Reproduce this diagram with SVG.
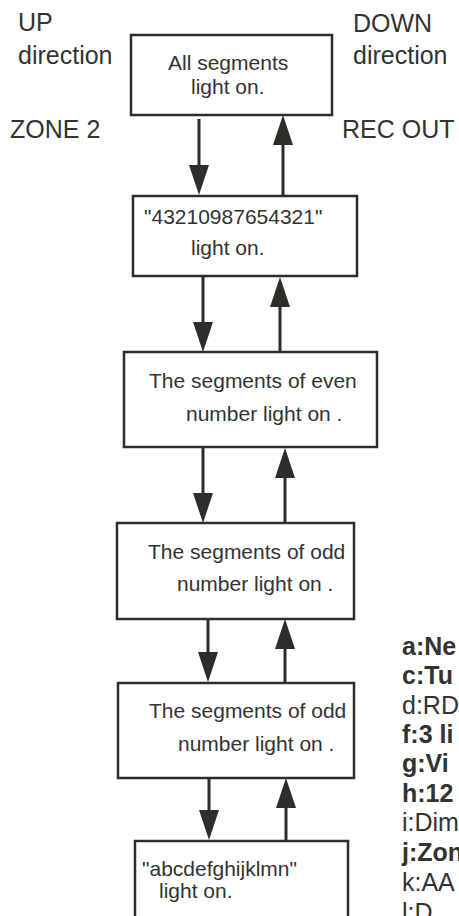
<svg xmlns="http://www.w3.org/2000/svg" width="459" height="916" viewBox="0 0 459 916">
<style>
text{font-family:"Liberation Sans",Arial,sans-serif;fill:#333331}
.lbl{font-size:25px}
.bx{font-size:21px}
.side{font-size:25px}
.b{font-weight:bold}
rect{fill:#fff;stroke:#2d2d2a;stroke-width:2.5}
.c line{stroke:#2d2d2a;stroke-width:3}
</style>
<defs>
<marker id="ah" viewBox="0 0 30 20" refX="0" refY="10" markerWidth="30" markerHeight="20" markerUnits="userSpaceOnUse" orient="auto">
<path d="M0,0 L30,10 L0,20 z" fill="#2d2d2a"/>
</marker>
</defs>
<rect x="0" y="0" width="459" height="916" style="stroke:none;fill:#fff"/>
<g id="labels">
<text class="lbl" x="18" y="31">UP</text>
<text class="lbl" x="18" y="64">direction</text>
<text class="lbl" x="353" y="32">DOWN</text>
<text class="lbl" x="353" y="64">direction</text>
<text class="lbl" x="10" y="138">ZONE 2</text>
<text class="lbl" x="342" y="138">REC OUT</text>
</g>
<g id="n1">
<rect x="131" y="35" width="201" height="80"/>
<text class="bx" x="168" y="70">All segments</text>
<text class="bx" x="191" y="94">light on.</text>
</g>
<g id="n2">
<rect x="133" y="196" width="224" height="80"/>
<text class="bx" x="144" y="224">"43210987654321"</text>
<text class="bx" x="191" y="255">light on.</text>
</g>
<g id="n3">
<rect x="124" y="352" width="253" height="95"/>
<text class="bx" x="149" y="388">The segments of even</text>
<text class="bx" x="186" y="421">number light on .</text>
</g>
<g id="n4">
<rect x="117" y="523" width="237" height="96"/>
<text class="bx" x="148" y="559">The segments of odd</text>
<text class="bx" x="177" y="591">number light on .</text>
</g>
<g id="n5">
<rect x="118" y="683" width="236" height="95"/>
<text class="bx" x="149" y="718">The segments of odd</text>
<text class="bx" x="178" y="751">number light on .</text>
</g>
<g id="n6">
<rect x="135" y="841" width="213" height="90"/>
<text class="bx" x="142" y="876">"abcdefghijklmn"</text>
<text class="bx" x="159" y="898">light on.</text>
</g>
<g id="legend">
<text class="side b" x="402" y="655">a:Ne</text>
<text class="side b" x="402" y="684">c:Tu</text>
<text class="side" x="402" y="714">d:RD</text>
<text class="side b" x="402" y="743">f:3 li</text>
<text class="side b" x="402" y="772">g:Vi</text>
<text class="side b" x="402" y="802">h:12</text>
<text class="side" x="402" y="831">i:Dim</text>
<text class="side b" x="402" y="861">j:Zon</text>
<text class="side" x="402" y="891">k:AA</text>
<text class="side" x="402" y="921">l:D</text>
</g>
<g id="connectors" class="c">
<line x1="199" y1="119" x2="199" y2="165" marker-end="url(#ah)"/>
<line x1="283" y1="196" x2="283" y2="145" marker-end="url(#ah)"/>
<line x1="203" y1="276" x2="203" y2="322" marker-end="url(#ah)"/>
<line x1="280" y1="352" x2="280" y2="307" marker-end="url(#ah)"/>
<line x1="203" y1="448" x2="203" y2="493" marker-end="url(#ah)"/>
<line x1="285" y1="523" x2="285" y2="478" marker-end="url(#ah)"/>
<line x1="208" y1="619" x2="208" y2="652" marker-end="url(#ah)"/>
<line x1="285" y1="683" x2="285" y2="649" marker-end="url(#ah)"/>
<line x1="209" y1="778" x2="209" y2="810" marker-end="url(#ah)"/>
<line x1="286" y1="841" x2="286" y2="808" marker-end="url(#ah)"/>
</g>
</svg>
